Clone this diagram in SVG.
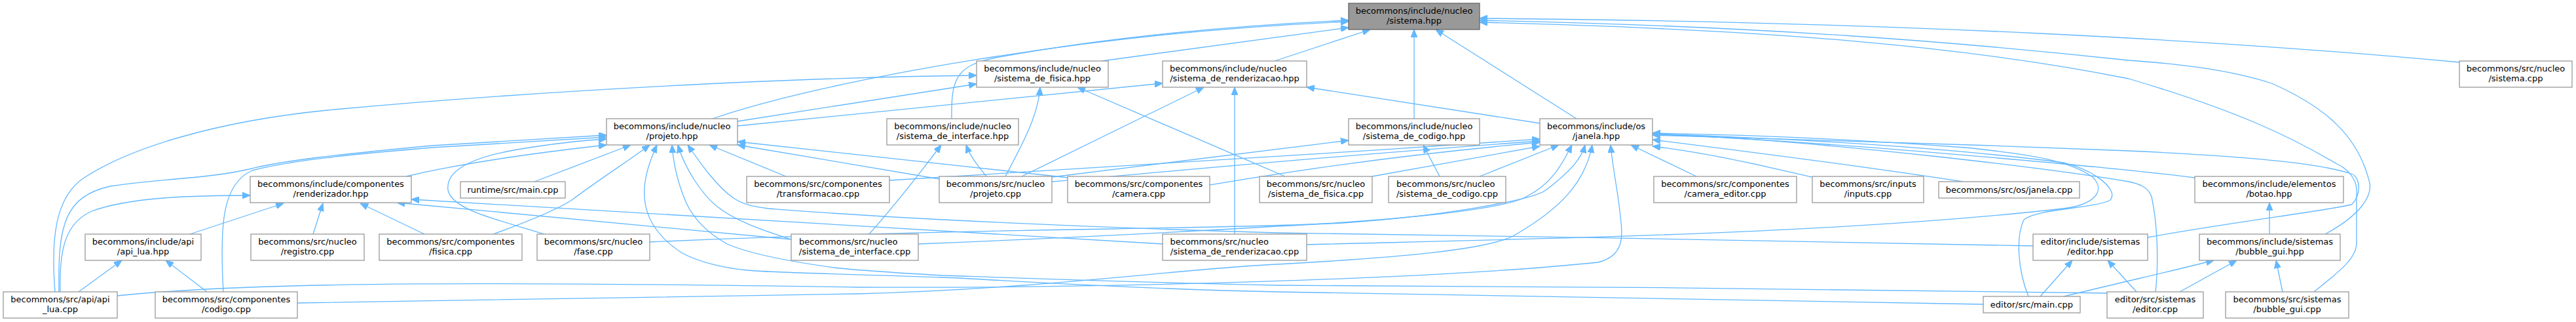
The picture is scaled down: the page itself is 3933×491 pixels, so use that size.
<svg xmlns="http://www.w3.org/2000/svg" width="3933" height="491" viewBox="0 0 3933 491">
<style>
.n rect{fill:#ffffff;stroke:#999999;stroke-width:1.3}
.root rect{fill:#999999;stroke:#666666;stroke-width:1.3}
text{font-family:"DejaVu Sans","Liberation Sans",sans-serif;font-size:13px;fill:#000000;text-anchor:middle}
text.l{text-anchor:start}
#edges path{fill:none;stroke:#63b8ff;stroke-width:1.3;marker-end:url(#ah)}
</style>
<defs>
<marker id="ah" markerUnits="userSpaceOnUse" markerWidth="13" markerHeight="10" refX="12" refY="5" orient="auto">
<path d="M0,0 L12,5 L0,10 z" fill="#63b8ff" stroke="#63b8ff" stroke-width="1"/>
</marker>
</defs>
<rect x="0" y="0" width="3933" height="491" fill="#ffffff"/>
<g id="edges">
<path d="M1682,93 L2059,42"/>
<path d="M1088,181 C1250,125 1650,50 2059,33"/>
<path d="M1453,181 C1452,120 1460,100 1520,88 C1700,55 1900,38 2059,31"/>
<path d="M1946,93 L2092,45"/>
<path d="M2159,181 L2159,45"/>
<path d="M2407,181 L2192,45"/>
<path d="M3755,95 C3400,62 2900,33 2259,28"/>
<path d="M3550,357 C3600,330 3625,300 3617,275 C3600,210 3555,165 3468,127 C3400,105 3320,97 3250,92 C3000,65 2700,40 2259,31"/>
<path d="M3533,445 C3570,415 3598,395 3598,370 L3598,290 C3598,270 3580,255 3568,250 C3500,210 3420,170 3250,120 C3000,70 2700,45 2259,34"/>
<path d="M84,445 C78,370 82,300 130,270 C200,225 330,185 500,168 C800,140 1200,118 1491,115"/>
<path d="M1126,185 L1491,128"/>
<path d="M1535,269 C1555,230 1585,180 1588,133"/>
<path d="M1962,269 L1645,133"/>
<path d="M1126,192 L1775,127"/>
<path d="M1560,269 L1838,133"/>
<path d="M1885,357 L1885,133"/>
<path d="M2351,188 L1995,133"/>
<path d="M90,445 C88,340 100,300 168,284 C250,272 320,272 380,258 C430,245 520,235 660,222 L926,206"/>
<path d="M341,445 C335,340 340,280 385,260 C440,245 540,235 660,225 L926,209"/>
<path d="M831,357 C760,335 690,320 684,290 C680,260 720,240 790,228 C850,218 890,214 926,212"/>
<path d="M620,269 C700,250 800,235 926,221"/>
<path d="M816,277 L963,221"/>
<path d="M753,357 C800,340 850,320 873,305 C920,270 960,245 992,221"/>
<path d="M3028,464 C2600,458 2200,448 1950,445 C1700,440 1500,425 1440,423 C1300,418 1180,416 1140,412 C1100,408 1063,398 1040,385 C1010,365 990,340 985,310 C980,280 990,250 1003,221"/>
<path d="M3217,447 C2900,440 2300,437 1950,435 C1700,430 1500,422 1440,420 C1350,415 1290,410 1273,408 C1200,398 1140,385 1110,372 C1080,355 1060,335 1048,310 C1035,280 1028,250 1026,221"/>
<path d="M1208,365 C1160,350 1120,335 1095,315 C1070,295 1045,255 1035,221"/>
<path d="M3104,375 C2800,368 2300,360 1950,355 C1700,348 1500,338 1440,335 C1300,328 1200,320 1173,318 C1150,315 1135,312 1120,302 C1095,285 1070,250 1050,221"/>
<path d="M1200,269 L1083,221"/>
<path d="M1434,273 L1126,221"/>
<path d="M1632,271 L1126,216"/>
<path d="M92,445 C90,380 100,340 140,322 C200,300 300,298 382,298"/>
<path d="M290,357 L433,310"/>
<path d="M478,357 L493,310"/>
<path d="M648,357 L550,310"/>
<path d="M1208,365 L606,309"/>
<path d="M1775,372 L628,304"/>
<path d="M120,445 L186,397"/>
<path d="M316,445 L253,397"/>
<path d="M1327,357 C1360,320 1400,270 1437,221"/>
<path d="M1506,269 C1495,255 1482,240 1475,221"/>
<path d="M2198,269 L2173,221"/>
<path d="M1606,270 L2059,214"/>
<path d="M179,451 C400,428 800,430 1310,438 C1700,440 2200,425 2440,400 C2480,390 2478,360 2474,330 C2470,290 2462,255 2459,221"/>
<path d="M454,462 C800,458 1100,450 1310,448 C1600,440 1800,410 1950,403 C2150,392 2270,380 2310,360 C2380,320 2420,280 2431,221"/>
<path d="M1358,275 C1600,262 2000,236 2351,212"/>
<path d="M1606,277 C1750,265 2000,240 2351,215"/>
<path d="M1847,282 C1950,265 2100,240 2351,217"/>
<path d="M2095,269 L2351,223"/>
<path d="M2259,269 L2380,221"/>
<path d="M2590,269 L2490,221"/>
<path d="M2766,270 C2700,255 2620,235 2523,223"/>
<path d="M2997,277 C2900,262 2700,235 2523,213"/>
<path d="M3351,271 C3250,258 2800,215 2523,205"/>
<path d="M992,369 C1200,360 1440,353 1700,349 C1850,346 1950,345 2050,340 C2200,330 2340,305 2360,290 C2400,260 2415,240 2420,221"/>
<path d="M1402,372 C1700,360 1900,348 1950,345 C2150,335 2300,318 2330,300 C2370,280 2385,250 2400,221"/>
<path d="M1995,373 C2300,365 2800,358 3150,318 C3200,312 3215,290 3195,270 C3160,245 3100,235 3000,225 C2800,210 2650,205 2523,203"/>
<path d="M3279,362 C3400,340 3560,320 3590,312 C3605,300 3605,270 3590,265 C3550,252 3470,240 3250,230 C3000,220 2700,210 2523,206"/>
<path d="M3097,452 C3080,410 3078,360 3090,335 C3110,318 3200,318 3222,305 C3235,290 3200,260 3150,248 C2950,222 2700,210 2523,204"/>
<path d="M3291,445 C3296,400 3294,340 3285,300 C3280,285 3265,280 3250,277 C3150,260 2800,215 2523,204"/>
<path d="M3465,357 L3465,309"/>
<path d="M3115,452 L3164,397"/>
<path d="M3262,445 L3218,397"/>
<path d="M3151,452 C3250,428 3330,410 3380,397"/>
<path d="M3328,445 L3415,397"/>
<path d="M3485,445 L3475,397"/>
</g>
<g id="n_sistema_hpp" class="root"><rect x="2059" y="5" width="200" height="40"/><text x="2159" y="20.8">becommons/include/nucleo</text><text x="2159" y="36.3">/sistema.hpp</text></g>
<g id="n_sistema_de_fisica_hpp" class="n"><rect x="1491" y="93" width="201" height="40"/><text x="1591.5" y="108.8">becommons/include/nucleo</text><text x="1591.5" y="124.3">/sistema_de_fisica.hpp</text></g>
<g id="n_sistema_de_renderizacao_hpp" class="n"><rect x="1775" y="93" width="220" height="40"/><text class="l" x="1786" y="108.8">becommons/include/nucleo</text><text x="1885" y="124.3">/sistema_de_renderizacao.hpp</text></g>
<g id="n_sistema_cpp" class="n"><rect x="3755" y="93" width="172" height="40"/><text x="3841" y="108.8">becommons/src/nucleo</text><text x="3841" y="124.3">/sistema.cpp</text></g>
<g id="n_projeto_hpp" class="n"><rect x="926" y="181" width="200" height="40"/><text x="1026" y="196.8">becommons/include/nucleo</text><text x="1026" y="212.3">/projeto.hpp</text></g>
<g id="n_sistema_de_interface_hpp" class="n"><rect x="1354" y="181" width="201" height="40"/><text x="1454.5" y="196.8">becommons/include/nucleo</text><text x="1454.5" y="212.3">/sistema_de_interface.hpp</text></g>
<g id="n_sistema_de_codigo_hpp" class="n"><rect x="2059" y="181" width="200" height="40"/><text x="2159" y="196.8">becommons/include/nucleo</text><text x="2159" y="212.3">/sistema_de_codigo.hpp</text></g>
<g id="n_janela_hpp" class="n"><rect x="2351" y="181" width="172" height="40"/><text x="2437" y="196.8">becommons/include/os</text><text x="2437" y="212.3">/janela.hpp</text></g>
<g id="n_renderizador_hpp" class="n"><rect x="382" y="269" width="246" height="40"/><text x="505" y="284.8">becommons/include/componentes</text><text x="505" y="300.3">/renderizador.hpp</text></g>
<g id="n_runtime_main_cpp" class="n"><rect x="703" y="277" width="160" height="25"/><text x="783" y="293.5">runtime/src/main.cpp</text></g>
<g id="n_transformacao_cpp" class="n"><rect x="1140" y="269" width="218" height="40"/><text x="1249" y="284.8">becommons/src/componentes</text><text x="1249" y="300.3">/transformacao.cpp</text></g>
<g id="n_projeto_cpp" class="n"><rect x="1434" y="269" width="172" height="40"/><text x="1520" y="284.8">becommons/src/nucleo</text><text x="1520" y="300.3">/projeto.cpp</text></g>
<g id="n_camera_cpp" class="n"><rect x="1630" y="269" width="217" height="40"/><text x="1738.5" y="284.8">becommons/src/componentes</text><text x="1738.5" y="300.3">/camera.cpp</text></g>
<g id="n_sistema_de_fisica_cpp" class="n"><rect x="1923" y="269" width="172" height="40"/><text x="2009" y="284.8">becommons/src/nucleo</text><text x="2009" y="300.3">/sistema_de_fisica.cpp</text></g>
<g id="n_sistema_de_codigo_cpp" class="n"><rect x="2120" y="269" width="179" height="40"/><text class="l" x="2132" y="284.8">becommons/src/nucleo</text><text x="2209.5" y="300.3">/sistema_de_codigo.cpp</text></g>
<g id="n_camera_editor_cpp" class="n"><rect x="2525" y="269" width="218" height="40"/><text x="2634" y="284.8">becommons/src/componentes</text><text x="2634" y="300.3">/camera_editor.cpp</text></g>
<g id="n_inputs_cpp" class="n"><rect x="2767" y="269" width="170" height="40"/><text x="2852" y="284.8">becommons/src/inputs</text><text x="2852" y="300.3">/inputs.cpp</text></g>
<g id="n_janela_cpp" class="n"><rect x="2960" y="277" width="215" height="25"/><text x="3067.5" y="293.5">becommons/src/os/janela.cpp</text></g>
<g id="n_botao_hpp" class="n"><rect x="3351" y="269" width="227" height="40"/><text x="3464.5" y="284.8">becommons/include/elementos</text><text x="3464.5" y="300.3">/botao.hpp</text></g>
<g id="n_api_lua_hpp" class="n"><rect x="130" y="357" width="177" height="40"/><text x="218.5" y="372.8">becommons/include/api</text><text x="218.5" y="388.3">/api_lua.hpp</text></g>
<g id="n_registro_cpp" class="n"><rect x="383" y="357" width="173" height="40"/><text x="469.5" y="372.8">becommons/src/nucleo</text><text x="469.5" y="388.3">/registro.cpp</text></g>
<g id="n_fisica_cpp" class="n"><rect x="579" y="357" width="218" height="40"/><text x="688" y="372.8">becommons/src/componentes</text><text x="688" y="388.3">/fisica.cpp</text></g>
<g id="n_fase_cpp" class="n"><rect x="820" y="357" width="172" height="40"/><text x="906" y="372.8">becommons/src/nucleo</text><text x="906" y="388.3">/fase.cpp</text></g>
<g id="n_sistema_de_interface_cpp" class="n"><rect x="1208" y="357" width="194" height="40"/><text class="l" x="1220" y="372.8">becommons/src/nucleo</text><text x="1305" y="388.3">/sistema_de_interface.cpp</text></g>
<g id="n_sistema_de_renderizacao_cpp" class="n"><rect x="1775" y="357" width="220" height="40"/><text class="l" x="1786.5" y="372.8">becommons/src/nucleo</text><text x="1885" y="388.3">/sistema_de_renderizacao.cpp</text></g>
<g id="n_editor_hpp" class="n"><rect x="3104" y="357" width="175" height="40"/><text x="3191.5" y="372.8">editor/include/sistemas</text><text x="3191.5" y="388.3">/editor.hpp</text></g>
<g id="n_bubble_gui_hpp" class="n"><rect x="3358" y="357" width="215" height="40"/><text x="3465.5" y="372.8">becommons/include/sistemas</text><text x="3465.5" y="388.3">/bubble_gui.hpp</text></g>
<g id="n_api_lua_cpp" class="n"><rect x="5" y="445" width="174" height="40"/><text x="92" y="460.8">becommons/src/api/api</text><text x="92" y="476.3">_lua.cpp</text></g>
<g id="n_codigo_cpp" class="n"><rect x="237" y="445" width="217" height="40"/><text x="345.5" y="460.8">becommons/src/componentes</text><text x="345.5" y="476.3">/codigo.cpp</text></g>
<g id="n_editor_main_cpp" class="n"><rect x="3028" y="452" width="148" height="25"/><text x="3102" y="468.5">editor/src/main.cpp</text></g>
<g id="n_editor_cpp" class="n"><rect x="3217" y="445" width="147" height="40"/><text x="3290.5" y="460.8">editor/src/sistemas</text><text x="3290.5" y="476.3">/editor.cpp</text></g>
<g id="n_bubble_gui_cpp" class="n"><rect x="3398" y="445" width="188" height="40"/><text x="3492" y="460.8">becommons/src/sistemas</text><text x="3492" y="476.3">/bubble_gui.cpp</text></g>
</svg>
